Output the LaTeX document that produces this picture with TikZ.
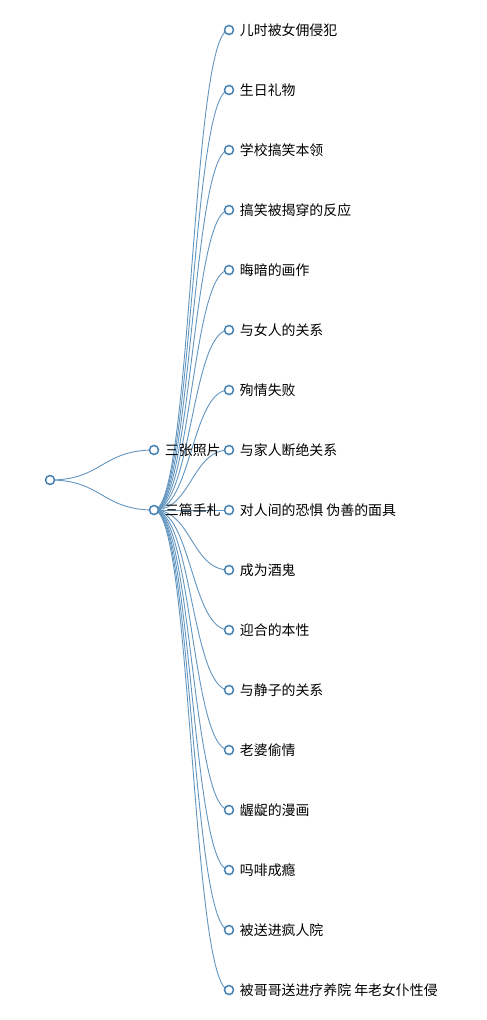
\documentclass[tikz,border=0pt]{standalone}
\usepackage{fontspec}
\setmainfont{Noto Sans CJK SC}
\usetikzlibrary{positioning, backgrounds}
\definecolor{steelblue}{HTML}{4682B4}

\begin{document}
\begin{tikzpicture}[x=1pt, y=-1pt,
  dot/.style={circle, draw=steelblue, fill=white, line width=1.5pt,
    minimum size=9pt, inner sep=0pt},
  link/.style={draw=steelblue!85, line width=0.9pt},
  lbl/.style={anchor=west, inner sep=0pt, font=\fontsize{13.9}{16}\selectfont}]
  \useasboundingbox (0,0) rectangle (487,1020);

  % root and first level
  \node[dot] (root) at (50,480) {};
  \node[dot] (photos) at (154,450) {};
  \node[dot] (notes) at (154,510) {};
  \node[lbl, right=5.5pt of photos] (tphotos) {三张照片};
  \node[lbl, right=5.5pt of notes] (tnotes) {三篇手札};

  % leaves of the notes
  \foreach \i/\txt in {0/儿时被女佣侵犯, 1/生日礼物, 2/学校搞笑本领,
      3/搞笑被揭穿的反应, 4/晦暗的画作, 5/与女人的关系, 6/殉情失败,
      7/与家人断绝关系, 8/对人间的恐惧 伪善的面具, 9/成为酒鬼,
      10/迎合的本性, 11/与静子的关系, 12/老婆偷情, 13/龌龊的漫画,
      14/吗啡成瘾, 15/被送进疯人院, 16/被哥哥送进疗养院 年老女仆性侵} {
    \node[dot] (l\i) at (229,30+60*\i) {};
    \node[lbl, right=5.5pt of l\i] (t\i) {\txt};
  }

  % links
  \begin{scope}[on background layer]
    \foreach \n in {photos, notes}
      \draw[link] (root.center) .. controls +(52,0) and +(-52,0) .. (\n.center);
    \foreach \i in {0,...,16}
      \draw[link] (notes.center) .. controls +(37.5,0) and +(-37.5,0) .. (l\i.center);
  \end{scope}
\end{tikzpicture}
\end{document}
